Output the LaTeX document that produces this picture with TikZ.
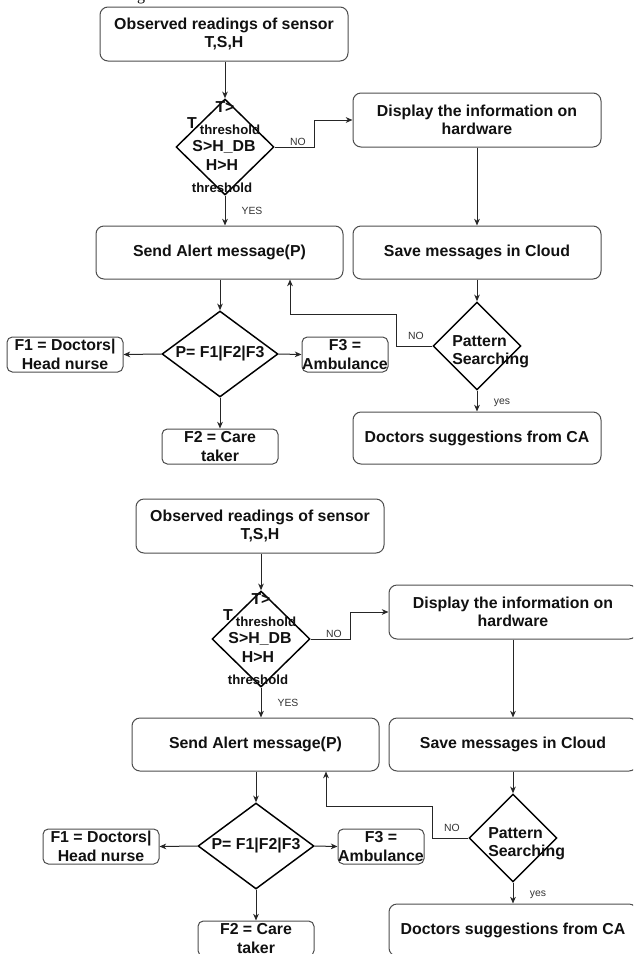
\documentclass[tikz,border=0pt]{standalone}
\usepackage{fontspec}
\setmainfont{Liberation Sans}
\newfontfamily\serifg{Liberation Serif}
\usetikzlibrary{arrows.meta,shapes.geometric,calc}
\definecolor{boxgray}{HTML}{4D4D4D}
\definecolor{linec}{HTML}{262626}
\definecolor{txtc}{HTML}{111111}
\definecolor{lblc}{HTML}{333333}
\tikzset{
  box/.style={draw=boxgray, line width=0.75pt, rounded corners=6pt, align=center,
    font=\fontsize{11.9}{13.8}\selectfont\bfseries, text=txtc, inner sep=0pt},
  dia/.style={draw=black, line width=1.1pt, diamond, inner sep=0pt},
  conn/.style={draw=linec, line width=0.75pt},
  arr/.style={conn, -{Stealth[length=5pt,width=4.2pt,inset=1.5pt]}},
  lbl/.style={font=\fontsize{7.8}{9}\selectfont, text=lblc, inner sep=0pt},
  dt/.style={font=\fontsize{11.9}{13.8}\selectfont\bfseries, text=txtc, inner sep=0pt},
  dts/.style={font=\fontsize{9.9}{11}\selectfont\bfseries, text=txtc, inner sep=0pt},
}
\newcommand\flowchart[3]{%
\begin{scope}[shift={(#1,#2)}]
  % boxes
  \node[box, minimum width=186pt, minimum height=40.5pt] (#3obs) at (224,34) {Observed readings of sensor\\T,S,H};
  \node[box, minimum width=186pt, minimum height=40.5pt] (#3disp) at (477,120) {Display the information on\\hardware};
  \node[box, minimum width=185.25pt, minimum height=39.75pt] (#3send) at (219.5,252.5) {Send Alert message(P)};
  \node[box, minimum width=186pt, minimum height=39.75pt] (#3save) at (477,252.5) {Save messages in Cloud};
  \node[box, minimum width=186pt, minimum height=39pt] (#3doc) at (477,438) {Doctors suggestions from CA};
  \node[box, minimum width=87pt, minimum height=26.25pt, rounded corners=4pt] (#3fone) at (65,354.5) {F1 = Doctors|\\Head nurse};
  \node[box, minimum width=64.5pt, minimum height=26.25pt, rounded corners=4pt] (#3fthree) at (345,354.5) {F3 =\\Ambulance};
  \node[box, minimum width=87pt, minimum height=26.25pt, rounded corners=4pt] (#3ftwo) at (220,446.5) {F2 = Care\\taker};
  % diamonds
  \node[dia, minimum width=73.5pt, minimum height=72pt] (#3dec) at (225,147) {};
  \node[dia, minimum width=66pt, minimum height=66pt] (#3pat) at (477,346) {};
  \node[dia, minimum width=87pt, minimum height=64.5pt] (#3pd) at (220,354) {};
  % diamond texts
  \node[dt] (#3ta) at (225,107) {T>};
  \node[dt] (#3tb) at (192,123) {T};
  \node[dts] (#3tc) at (230,130) {threshold};
  \node[dt] (#3td) at (224,147) {S>H\_DB};
  \node[dt] (#3te) at (222,165) {H>H};
  \node[dts] (#3tf) at (222,188) {threshold};
  \node[dt, align=left, anchor=west] (#3ptxt) at (452,351.5) {Pattern\\Searching};
  \node[dt] (#3ptext) at (220,354) {P= F1|F2|F3};
  % connectors
  \draw[arr] (#3dec.north |- #3obs.south) -- (#3dec.north);
  \draw[arr] (#3dec.south) -- (#3dec.south |- #3send.north);
  \draw[arr] (#3dec.east) -- ++(40,0) |- (#3disp.west);
  \draw[arr] (#3disp.south) -- (#3save.north);
  \draw[arr] (#3save.south) -- (#3pat.north);
  \draw[arr] (#3pat.south) -- (#3doc.north);
  \coordinate (#3back) at ($(#3send.south)+(70.5,35)$);
  \draw[arr] (#3pat.west) -- ++(-36,0) |- (#3back) -- (#3back |- #3send.south);
  \draw[arr] (#3pd.north |- #3send.south) -- (#3pd.north);
  \draw[arr] (#3pd.west) -- (#3fone.east);
  \draw[arr] (#3pd.east) -- (#3fthree.west);
  \draw[arr] (#3pd.south) -- (#3ftwo.north);
  % labels
  \node[lbl] (#3lno) at (298,142) {NO};
  \node[lbl] (#3lyes) at (252,211) {YES};
  \node[lbl] (#3lnob) at (416,336) {NO};
  \node[lbl] (#3lyesb) at (502,403) {yes};
\end{scope}}
\begin{document}
\begin{tikzpicture}[x=0.75pt, y=-0.75pt]
  \useasboundingbox (0,0) rectangle (633,954);
  \clip (0,0) rectangle (633,954);
  \fill[white] (0,0) rectangle (633,954);
  \node[font=\serifg\fontsize{12}{14}\selectfont, anchor=base, inner sep=0pt] (gfrag) at (141,0) {g};
  \flowchart{0}{0}{A}
  \flowchart{36}{492}{B}
\end{tikzpicture}
\end{document}
